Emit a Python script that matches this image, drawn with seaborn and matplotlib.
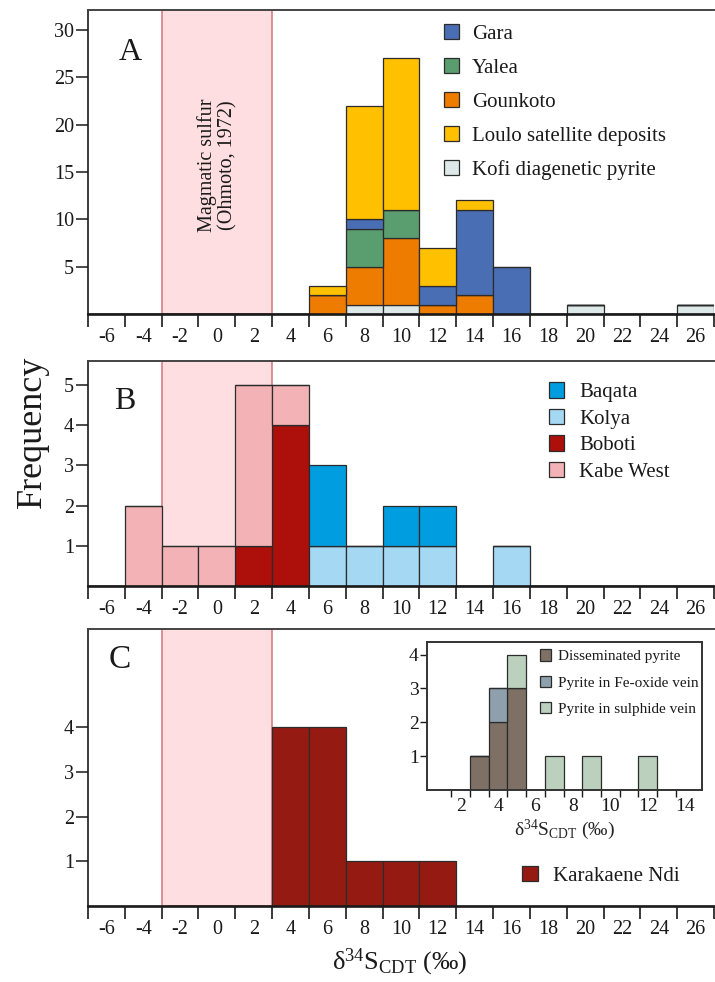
import numpy as np
import pandas as pd
import matplotlib
matplotlib.use("Agg")
import matplotlib.pyplot as plt
from matplotlib.patches import Patch
import seaborn as sns

# bin centres (per mil), bins are 2 per mil wide
bins = [-6, -4, -2, 0, 2, 4, 6, 8, 10, 12, 14, 16, 18, 20, 22, 24, 26]
bin_labels = [str(b) for b in bins]

# panel A - counts per bin
gara     = [0, 0, 0, 0, 0, 0, 0, 1, 0, 2, 9, 5, 0, 0, 0, 0, 0]
yalea    = [0, 0, 0, 0, 0, 0, 0, 4, 3, 0, 0, 0, 0, 0, 0, 0, 0]
gounkoto = [0, 0, 0, 0, 0, 0, 2, 4, 7, 1, 2, 0, 0, 0, 0, 0, 0]
loulo    = [0, 0, 0, 0, 0, 0, 1, 12, 16, 4, 1, 0, 0, 0, 0, 0, 0]
kofi     = [0, 0, 0, 0, 0, 0, 0, 1, 1, 0, 0, 0, 0, 1, 0, 0, 1]

# panel B
baqata    = [0, 0, 0, 0, 0, 0, 2, 0, 1, 1, 0, 0, 0, 0, 0, 0, 0]
kolya     = [0, 0, 0, 0, 0, 0, 1, 1, 1, 1, 0, 1, 0, 0, 0, 0, 0]
boboti    = [0, 0, 0, 0, 1, 4, 0, 0, 0, 0, 0, 0, 0, 0, 0, 0, 0]
kabe_west = [0, 2, 1, 1, 4, 1, 0, 0, 0, 0, 0, 0, 0, 0, 0, 0, 0]

# panel C
karakaene = [0, 0, 0, 0, 0, 4, 4, 1, 1, 1, 0, 0, 0, 0, 0, 0, 0]

# inset of panel C, bins 1 per mil wide
inset_bins = [1, 2, 3, 4, 5, 6, 7, 8, 9, 10, 11, 12, 13, 14]
inset_labels = ["2", "4", "6", "8", "10", "12", "14"]
disseminated = [0, 0, 1, 2, 3, 0, 0, 0, 0, 0, 0, 0, 0, 0]
fe_oxide     = [0, 0, 0, 1, 0, 0, 0, 0, 0, 0, 0, 0, 0, 0]
sulphide     = [0, 0, 0, 0, 1, 0, 1, 0, 1, 0, 0, 1, 0, 0]

colors = {
    "Gara": "#4a6eb4",
    "Yalea": "#5a9e70",
    "Gounkoto": "#ee7c00",
    "Loulo satellite deposits": "#ffc000",
    "Kofi diagenetic pyrite": "#dce9e8",
    "Baqata": "#009ee0",
    "Kolya": "#a5d8f3",
    "Boboti": "#ad0f0b",
    "Kabe West": "#f3b2b5",
    "Karakaene Ndi": "#951b12",
    "Disseminated pyrite": "#7f7066",
    "Pyrite in Fe-oxide vein": "#8ea0ac",
    "Pyrite in sulphide vein": "#bbd0bd",
}
EDGE = "#2b2b2b"

sns.set_theme(style="ticks")
plt.rcParams["font.family"] = ["Liberation Serif", "DejaVu Serif"]
plt.rcParams["mathtext.fontset"] = "custom"
plt.rcParams["mathtext.rm"] = "Liberation Serif"
plt.rcParams["mathtext.it"] = "Liberation Serif:italic"
plt.rcParams["axes.unicode_minus"] = False
plt.rcParams["text.color"] = "#1a1a1a"
plt.rcParams["xtick.color"] = "#1a1a1a"
plt.rcParams["ytick.color"] = "#1a1a1a"


def long_frame(centres, series):
    rows = []
    for name, counts in series.items():
        for c, n in zip(centres, counts):
            rows.append((c, name, n))
    return pd.DataFrame(rows, columns=["d34S", "group", "n"])


def stacked_hist(ax, centres, series, width, order):
    df = long_frame(centres, series)
    lo = centres[0] - width / 2
    hi = centres[-1] + width / 2
    sns.histplot(data=df, x="d34S", hue="group", weights="n",
                 binwidth=width, binrange=(lo, hi),
                 multiple="stack", hue_order=order, palette=colors,
                 alpha=1, edgecolor=EDGE, linewidth=0.9, legend=False, ax=ax)
    ax.set_xlabel("")
    ax.set_ylabel("")


def format_panel(ax, ymax, yticks):
    ax.set_xlim(-7, 27)
    ax.set_ylim(0, ymax)
    ax.set_xticks(bins)
    ax.set_xticklabels(bin_labels)
    ax.set_xticks(np.arange(-7, 28, 2), minor=True)
    ax.tick_params(axis="x", which="major", length=0, pad=10, labelsize=14.5)
    ax.tick_params(axis="x", which="minor", length=9, width=1.2, direction="out", color="#1a1a1a")
    ax.set_yticks(yticks)
    ax.tick_params(axis="y", length=9, width=1.1, pad=1, labelsize=14.5, color="#1a1a1a")
    ax.spines["right"].set_visible(False)
    ax.spines["top"].set_color("#444444")
    ax.spines["top"].set_linewidth(1.4)
    ax.spines["left"].set_color("#1a1a1a")
    ax.spines["left"].set_linewidth(1.2)
    ax.spines["bottom"].set_color("#1a1a1a")
    ax.spines["bottom"].set_linewidth(1.9)
    # magmatic sulfur range
    ax.axvspan(-3, 3, facecolor="#ffdee1", edgecolor="#d77e85", lw=1.2, zorder=0)


def patch_legend(ax, names, **kw):
    handles = [Patch(facecolor=colors[n], edgecolor=EDGE, linewidth=0.9) for n in names]
    ax.legend(handles, names, frameon=False, handlelength=0.75, handleheight=0.75,
              borderpad=0, borderaxespad=0, **kw)


fig = plt.figure(figsize=(7.15, 9.82), dpi=100)

# ---- panel A ----
ax_a = fig.add_axes([0.1231, 0.6802, 0.8755, 0.3096])
stacked_hist(ax_a, bins,
             {"Gara": gara, "Yalea": yalea, "Gounkoto": gounkoto,
              "Loulo satellite deposits": loulo, "Kofi diagenetic pyrite": kofi},
             2,
             ["Loulo satellite deposits", "Gara", "Yalea", "Gounkoto", "Kofi diagenetic pyrite"])
format_panel(ax_a, 32.1, [5, 10, 15, 20, 25, 30])
ax_a.text(0, 15.7, "Magmatic sulfur\n(Ohmoto, 1972)", rotation=90, ha="center",
          va="center", fontsize=14.5, linespacing=1.08)
ax_a.text(0.067, 0.86, "A", transform=ax_a.transAxes, ha="center", va="center", fontsize=23)
patch_legend(ax_a, ["Gara", "Yalea", "Gounkoto", "Loulo satellite deposits",
                    "Kofi diagenetic pyrite"],
             loc="upper left", bbox_to_anchor=(0.568, 0.955), fontsize=15,
             labelspacing=0.68, handletextpad=0.6)

# ---- panel B ----
ax_b = fig.add_axes([0.1231, 0.4033, 0.8755, 0.2291])
stacked_hist(ax_b, bins,
             {"Baqata": baqata, "Kolya": kolya, "Boboti": boboti, "Kabe West": kabe_west},
             2,
             ["Baqata", "Kabe West", "Kolya", "Boboti"])
format_panel(ax_b, 5.6, [1, 2, 3, 4, 5])
ax_b.text(0.059, 0.818, "B", transform=ax_b.transAxes, ha="center", va="center", fontsize=23)
patch_legend(ax_b, ["Baqata", "Kolya", "Boboti", "Kabe West"],
             loc="upper left", bbox_to_anchor=(0.736, 0.905), fontsize=15,
             labelspacing=0.32, handletextpad=0.7)

# ---- panel C ----
ax_c = fig.add_axes([0.1231, 0.0774, 0.8755, 0.2821])
stacked_hist(ax_c, bins, {"Karakaene Ndi": karakaene}, 2, ["Karakaene Ndi"])
format_panel(ax_c, 6.2, [1, 2, 3, 4])
ax_c.text(0.051, 0.888, "C", transform=ax_c.transAxes, ha="center", va="center", fontsize=24)
patch_legend(ax_c, ["Karakaene Ndi"], loc="center left",
             bbox_to_anchor=(0.694, 0.108), fontsize=15, handletextpad=0.7)

# ---- inset ----
ax_in = fig.add_axes([0.5972, 0.1955, 0.3846, 0.1507])
stacked_hist(ax_in, inset_bins,
             {"Disseminated pyrite": disseminated, "Pyrite in Fe-oxide vein": fe_oxide,
              "Pyrite in sulphide vein": sulphide},
             1,
             ["Pyrite in sulphide vein", "Pyrite in Fe-oxide vein", "Disseminated pyrite"])
ax_in.set_xlim(0.2, 14.9)
ax_in.set_ylim(0, 4.37)
ax_in.set_xticks([2, 4, 6, 8, 10, 12, 14])
ax_in.set_xticklabels(inset_labels)
ax_in.set_xticks(np.arange(1.5, 14, 1), minor=True)
ax_in.tick_params(axis="x", which="major", length=0, pad=6, labelsize=14)
ax_in.tick_params(axis="x", which="minor", length=5, width=1, direction="out", color="#1a1a1a")
ax_in.set_yticks([1, 2, 3, 4])
ax_in.tick_params(axis="y", length=5, width=1, pad=1, labelsize=14, color="#1a1a1a")
for s in ax_in.spines.values():
    s.set_color("#333333")
    s.set_linewidth(1.4)
ax_in.set_xlabel("δ$^{34}$S$_{\\mathrm{CDT}}$ (‰)", fontsize=14, labelpad=2)
patch_legend(ax_in, ["Disseminated pyrite", "Pyrite in Fe-oxide vein",
                     "Pyrite in sulphide vein"],
             loc="upper left", bbox_to_anchor=(0.41, 0.95), fontsize=11,
             labelspacing=0.8, handletextpad=0.45)

# shared labels
fig.text(0.045, 1 - 432 / 982, "Frequency", rotation=90, ha="center", va="center", fontsize=26)
fig.text(400 / 715, 1 - 962 / 982, "δ$^{34}$S$_{\\mathrm{CDT}}$ (‰)", ha="center",
         va="center", fontsize=19)

fig.savefig("out.png", dpi=100)
